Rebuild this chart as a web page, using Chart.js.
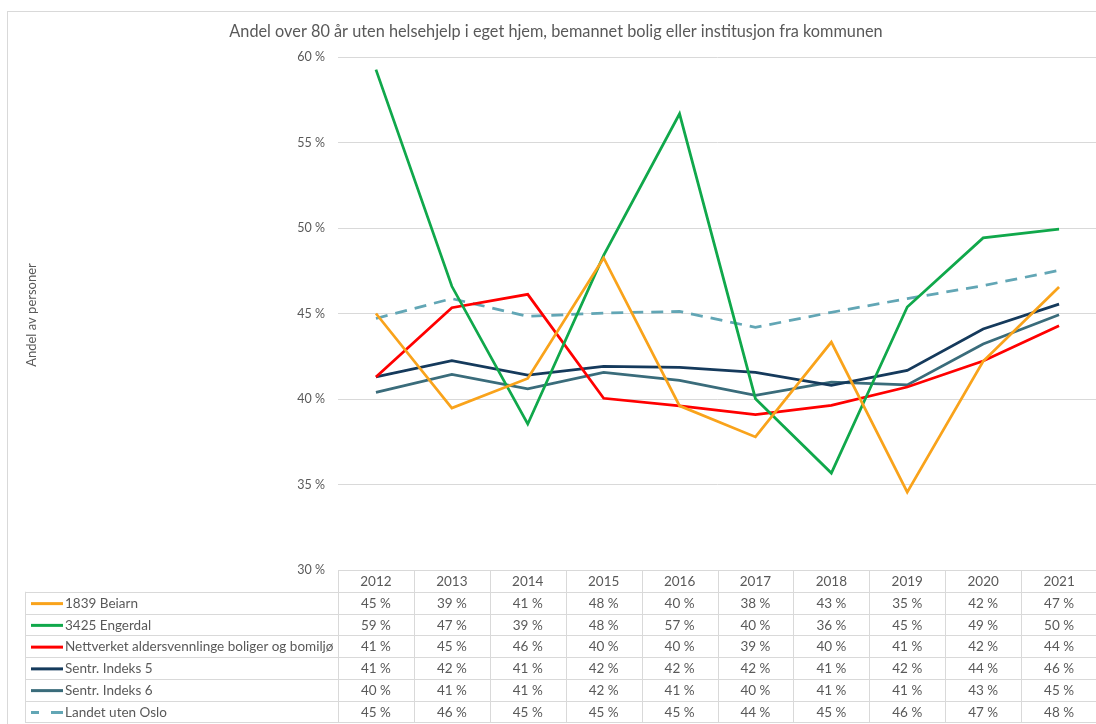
<!DOCTYPE html>
<html>
<head>
<meta charset="utf-8">
<script src="https://cdn.jsdelivr.net/npm/chart.js@4/dist/chart.umd.min.js"></script>
<style>
  html, body { margin: 0; padding: 0; background: #fff; overflow: hidden; }
  #wrap { position: relative; width: 1097px; height: 724px; }
</style>
</head>
<body>
<div id="wrap"><canvas id="c" width="1097" height="724"></canvas></div>
<script>
// Years (categories)
const years = ['2012', '2013', '2014', '2015', '2016', '2017', '2018', '2019', '2020', '2021'];

// Share (%) of people over 80 without municipal health care
const beiarn     = [45.0, 39.47, 41.2, 48.25, 39.6, 37.78, 43.33, 34.55, 42.2, 46.55];
const engerdal   = [59.26, 46.59, 38.54, 48.4, 56.68, 40.02, 35.67, 45.38, 49.42, 49.94];
const nettverket = [41.29, 45.34, 46.12, 40.04, 39.6, 39.08, 39.63, 40.7, 42.22, 44.29];
const sentr5     = [41.29, 42.24, 41.4, 41.91, 41.85, 41.56, 40.8, 41.67, 44.09, 45.55];
const sentr6     = [40.39, 41.44, 40.6, 41.55, 41.09, 40.21, 40.99, 40.82, 43.22, 44.93];
const landet     = [44.71, 45.87, 44.83, 45.03, 45.12, 44.19, 45.07, 45.87, 46.63, 47.52];

const seriesNames = [
  '1839 Beiarn',
  '3425 Engerdal',
  'Nettverket aldersvennlinge boliger og bomiljø',
  'Sentr. Indeks 5',
  'Sentr. Indeks 6',
  'Landet uten Oslo'
];
const seriesValues = [beiarn, engerdal, nettverket, sentr5, sentr6, landet];
const seriesColors = ['#F9A31B', '#10A84B', '#FF0000', '#153A5C', '#3A6C7B', '#62A6B5'];
const seriesDash   = [[], [], [], [], [], [12, 8]];

// Axis range and tick step (%)
const yMin = 30, yMax = 60, yStep = 5;

const chartTitle = 'Andel over 80 år uten helsehjelp i eget hjem, bemannet bolig eller institusjon fra kommunen';
const yTitle = 'Andel av personer';

const FONT = 'Lato, "Liberation Sans", sans-serif';
const TEXT = '#595959';
const LINE = '#d9d9d9';

const fmtPct = v => Math.round(v) + ' %';

// Title, axis title, frame and the data table beneath the plot
const tablePlugin = {
  id: 'dataTable',
  afterDraw(chart) {
    const ctx = chart.ctx;
    const area = chart.chartArea;
    const x = chart.scales.x;
    ctx.save();

    // outer frame
    ctx.strokeStyle = LINE;
    ctx.lineWidth = 1;
    ctx.strokeRect(7.5, 11.5, chart.width + 10, chart.height + 10);

    // title
    ctx.fillStyle = TEXT;
    ctx.font = '16.3px ' + FONT;
    ctx.textAlign = 'center';
    ctx.textBaseline = 'middle';
    ctx.fillText(chartTitle, 556, 32);

    // y axis title
    ctx.save();
    ctx.translate(32, 315);
    ctx.rotate(-Math.PI / 2);
    ctx.font = '13px ' + FONT;
    ctx.fillText(yTitle, 0, 0);
    ctx.restore();

    // table geometry
    const n = years.length;
    const half = (x.getPixelForValue(1) - x.getPixelForValue(0)) / 2;
    const colLeft = x.getPixelForValue(0) - half;
    const colRight = x.getPixelForValue(n - 1) + half;
    const labelLeft = 25;
    const top = area.bottom;
    const rowH = 21.75;
    const rows = seriesNames.length;
    const bottom = top + rowH * (rows + 1);

    ctx.strokeStyle = LINE;
    ctx.lineWidth = 1;
    ctx.beginPath();
    // header top
    ctx.moveTo(colLeft, Math.round(top) + 0.5);
    ctx.lineTo(colRight, Math.round(top) + 0.5);
    for (let r = 1; r <= rows + 1; r++) {
      const yy = Math.round(top + r * rowH) + 0.5;
      ctx.moveTo(labelLeft, yy);
      ctx.lineTo(colRight, yy);
    }
    // vertical lines
    for (let i = 0; i <= n; i++) {
      const xx = Math.round(colLeft + i * 2 * half) + 0.5;
      ctx.moveTo(xx, top);
      ctx.lineTo(xx, bottom);
    }
    ctx.moveTo(labelLeft + 0.5, top + rowH);
    ctx.lineTo(labelLeft + 0.5, bottom);
    ctx.stroke();

    // header labels
    ctx.fillStyle = TEXT;
    ctx.font = '13.5px ' + FONT;
    ctx.textAlign = 'center';
    ctx.textBaseline = 'middle';
    years.forEach((yr, i) => {
      ctx.fillText(yr, x.getPixelForValue(i), top + rowH / 2 + 1);
    });

    // rows
    seriesNames.forEach((name, r) => {
      const cy = top + (r + 1.5) * rowH + 1;
      // legend key
      ctx.save();
      ctx.strokeStyle = seriesColors[r];
      ctx.lineWidth = 3;
      if (seriesDash[r].length) ctx.setLineDash([8, 12, 12]);
      ctx.beginPath();
      ctx.moveTo(31, cy);
      ctx.lineTo(63, cy);
      ctx.stroke();
      ctx.restore();

      ctx.fillStyle = TEXT;
      ctx.textAlign = 'left';
      ctx.fillText(name, 65, cy);
      ctx.textAlign = 'center';
      seriesValues[r].forEach((v, i) => {
        ctx.fillText(fmtPct(v), x.getPixelForValue(i), cy);
      });
    });

    ctx.restore();
  }
};

new Chart(document.getElementById('c'), {
  type: 'line',
  data: {
    labels: years,
    datasets: seriesNames.map((name, i) => ({
      label: name,
      data: seriesValues[i],
      borderColor: seriesColors[i],
      backgroundColor: seriesColors[i],
      borderWidth: 2.75,
      borderDash: seriesDash[i],
      pointRadius: 0,
      pointHoverRadius: 0,
      tension: 0,
      fill: false
    }))
  },
  options: {
    responsive: false,
    animation: false,
    devicePixelRatio: 1,
    layout: { padding: { top: 57, bottom: 154, left: 0, right: 0 } },
    plugins: {
      legend: { display: false },
      title: { display: false },
      tooltip: { enabled: false }
    },
    scales: {
      x: {
        display: false,
        offset: true
      },
      y: {
        min: yMin,
        max: yMax,
        ticks: {
          stepSize: yStep,
          callback: v => v + ' %',
          color: TEXT,
          font: { family: FONT, size: 12.5 },
          padding: 13
        },
        grid: { color: LINE, lineWidth: 1, drawTicks: false },
        border: { display: false },
        afterFit(scale) { scale.width = 338; }
      }
    }
  },
  plugins: [tablePlugin]
});
</script>
</body>
</html>
